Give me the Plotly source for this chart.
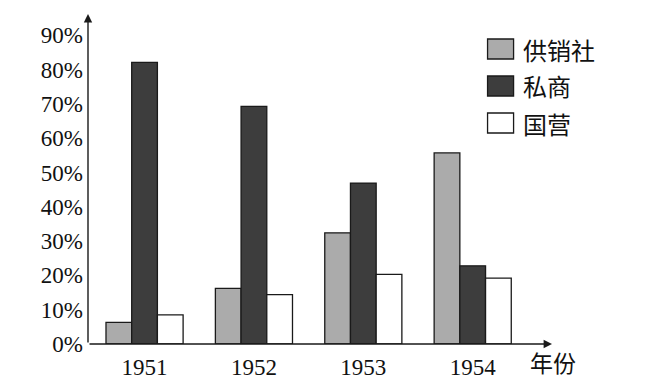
import plotly.graph_objects as go

years = ["1951", "1952", "1953", "1954"]
series_names = ["供销社", "私商", "国营"]
supply_coop = [6.3, 16.2, 32.4, 55.7]
private_merchant = [82.1, 69.3, 46.9, 22.8]
state_owned = [8.5, 14.4, 20.3, 19.2]
y_tick_vals = [0, 10, 20, 30, 40, 50, 60, 70, 80, 90]
y_tick_text = ["0%", "10%", "20%", "30%", "40%", "50%", "60%", "70%", "80%", "90%"]
x_axis_label = "年份"

values = [supply_coop, private_merchant, state_owned]
colors = ["#ababab", "#3d3d3d", "#ffffff"]

fig = go.Figure()
for name, vals, col in zip(series_names, values, colors):
    fig.add_trace(go.Bar(
        x=list(range(len(years))), y=vals, name=name,
        marker=dict(color=col, line=dict(color="#1a1a1a", width=1.3)),
        showlegend=False,
    ))

XMIN, XMAX = -0.517, 3.725
YMAX = 96.2
serif = "Liberation Serif, Times New Roman, serif"
cjk = "Noto Sans CJK SC"

fig.update_layout(
    width=658, height=384,
    margin=dict(l=88, r=106, t=14, b=40),
    paper_bgcolor="white", plot_bgcolor="white",
    barmode="group", bargap=0.295, bargroupgap=0,
    xaxis=dict(range=[XMIN, XMAX], tickvals=list(range(len(years))), ticktext=years,
               showgrid=False, zeroline=False, showline=False, ticks="",
               tickfont=dict(family=serif, size=23, color="#111111"),
               ticklabelstandoff=7, automargin=False),
    yaxis=dict(range=[0, YMAX], tickvals=y_tick_vals, ticktext=y_tick_text,
               showgrid=False, zeroline=False, showline=False, ticks="",
               tickfont=dict(family=serif, size=23, color="#111111"),
               ticklabelstandoff=4, automargin=False),
)

# axis lines with arrows
fig.add_annotation(x=XMIN, y=YMAX, ax=XMIN, ay=0, xref="x", yref="y", axref="x", ayref="y",
                   text="", showarrow=True, arrowhead=2, arrowsize=1.2, arrowwidth=1.4,
                   arrowcolor="#1a1a1a", standoff=0, startstandoff=0)
fig.add_annotation(x=XMAX, y=0, ax=XMIN, ay=0, xref="x", yref="y", axref="x", ayref="y",
                   text="", showarrow=True, arrowhead=2, arrowsize=1.2, arrowwidth=1.4,
                   arrowcolor="#1a1a1a", standoff=0, startstandoff=0)

fig.add_annotation(x=1.0, y=0, xref="paper", yref="paper", xshift=-24, yshift=-18,
                   text=x_axis_label, showarrow=False, xanchor="left", yanchor="middle",
                   font=dict(family=cjk, size=23, color="#111111"))

# legend
row_y = [49, 86, 123]
for i, (name, col) in enumerate(zip(series_names, colors)):
    cy = (344 - row_y[i]) / 330
    h = 10 / 330
    fig.add_shape(type="rect", xref="paper", yref="paper",
                  x0=(487.3 - 88) / 463.7, x1=(513.3 - 88) / 463.7, y0=cy - h, y1=cy + h,
                  fillcolor=col, line=dict(color="#1a1a1a", width=1.3))
    fig.add_annotation(x=(521 - 88) / 463.7, y=cy, xref="paper", yref="paper",
                       text=name, showarrow=False, xanchor="left", yanchor="middle",
                       font=dict(family=cjk, size=24, color="#111111"))

fig.write_html("out.html")
